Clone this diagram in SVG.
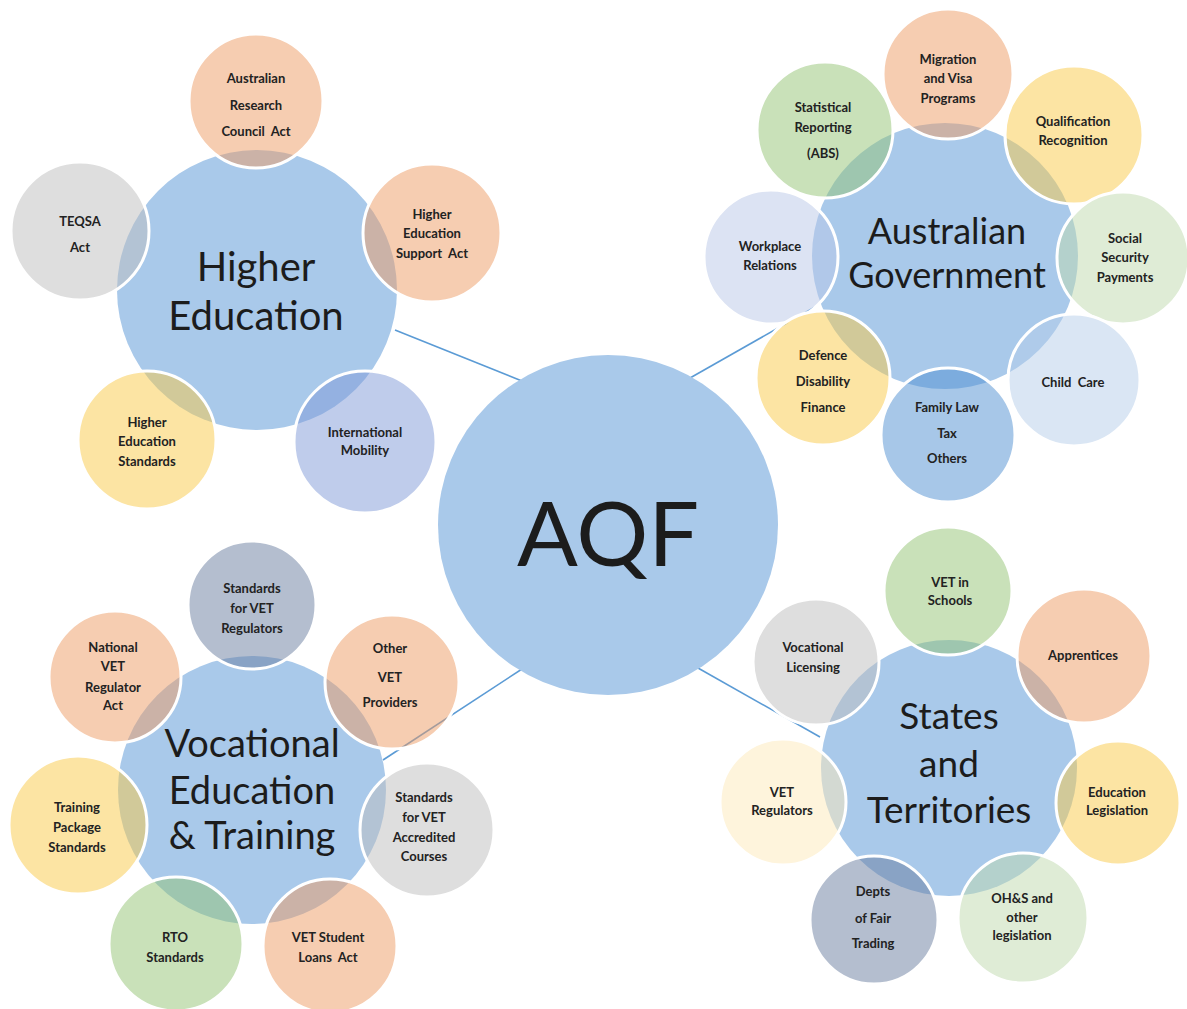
<svg xmlns="http://www.w3.org/2000/svg" width="1187" height="1009" viewBox="0 0 1187 1009">
<style>
.main{fill:#A9C9EA}
.sat{fill-opacity:0.5}
.ring{fill:none;stroke:#ffffff;stroke-width:3}
.pe{fill:#ED9B63}.gr{fill:#BDBDBD}.ye{fill:#F9C947}.la{fill:#7F99D7}.gn{fill:#93C373}
.wl{fill:#B9C7E7}.lg{fill:#BFD9AD}.lb{fill:#B5CDE9}.bl{fill:#4F8FD1}.sl{fill:#697D9F}.ly{fill:#FDE9B9}
.mt{font-family:Lato,"Open Sans","Liberation Sans",sans-serif;fill:#1c1c1c;text-anchor:middle}
.st{font-family:Lato,"Open Sans","Liberation Sans",sans-serif;font-weight:700;font-size:13px;fill:#222222;text-anchor:middle;white-space:pre}
.cn{stroke:#5B9BD5;stroke-width:1.6;fill:none}
</style>
<rect width="1187" height="1009" fill="#ffffff"/>
<g id="connectors">
<line class="cn" x1="395" y1="330" x2="522" y2="381"/>
<line class="cn" x1="690" y1="378" x2="815" y2="307"/>
<line class="cn" x1="383" y1="760" x2="522" y2="669"/>
<line class="cn" x1="698" y1="668" x2="820" y2="737"/>
</g>
<g id="aqf">
<circle class="main" cx="608" cy="525" r="170"/>
<text class="mt" x="608" y="566" font-size="90">AQF</text>
</g>

<g id="higher-education">
<circle class="main" cx="257" cy="290" r="140"/>
</g>
<g id="he-arc"><circle class="sat pe" cx="256" cy="101" r="67"/><circle class="ring" cx="256" cy="101" r="67"/>
<text class="st"><tspan x="256" y="83">Australian</tspan><tspan x="256" y="110">Research</tspan><tspan x="256" y="136">Council  Act</tspan></text></g>
<g id="he-teqsa"><circle class="sat gr" cx="80" cy="231" r="69"/><circle class="ring" cx="80" cy="231" r="69"/>
<text class="st"><tspan x="80" y="226">TEQSA</tspan><tspan x="80" y="252">Act</tspan></text></g>
<g id="he-hesa"><circle class="sat pe" cx="432" cy="233" r="69"/><circle class="ring" cx="432" cy="233" r="69"/>
<text class="st"><tspan x="432" y="219">Higher</tspan><tspan x="432" y="238">Education</tspan><tspan x="432" y="258">Support  Act</tspan></text></g>
<g id="he-hes"><circle class="sat ye" cx="147" cy="440" r="69"/><circle class="ring" cx="147" cy="440" r="69"/>
<text class="st"><tspan x="147" y="427">Higher</tspan><tspan x="147" y="446">Education</tspan><tspan x="147" y="466">Standards</tspan></text></g>
<g id="he-im"><circle class="sat la" cx="365" cy="442" r="71"/><circle class="ring" cx="365" cy="442" r="71"/>
<text class="st"><tspan x="365" y="437">International</tspan><tspan x="365" y="455">Mobility</tspan></text></g>
<g id="he-label"><text class="mt" font-size="40"><tspan x="256" y="281">Higher</tspan><tspan x="256" y="330">Education</tspan></text></g>

<g id="australian-government">
<circle class="main" cx="945" cy="256" r="133"/>
</g>
<g id="ag-migration"><circle class="sat pe" cx="948" cy="74" r="65"/><circle class="ring" cx="948" cy="74" r="65"/>
<text class="st"><tspan x="948" y="64">Migration</tspan><tspan x="948" y="83">and Visa</tspan><tspan x="948" y="103">Programs</tspan></text></g>
<g id="ag-stat"><circle class="sat gn" cx="825" cy="130" r="68"/><circle class="ring" cx="825" cy="130" r="68"/>
<text class="st"><tspan x="823" y="112">Statistical</tspan><tspan x="823" y="132">Reporting</tspan><tspan x="823" y="158">(ABS)</tspan></text></g>
<g id="ag-qual"><circle class="sat ye" cx="1074" cy="135" r="69"/><circle class="ring" cx="1074" cy="135" r="69"/>
<text class="st"><tspan x="1073" y="126">Qualification</tspan><tspan x="1073" y="145">Recognition</tspan></text></g>
<g id="ag-work"><circle class="sat wl" cx="771" cy="257" r="67"/><circle class="ring" cx="771" cy="257" r="67"/>
<text class="st"><tspan x="770" y="251">Workplace</tspan><tspan x="770" y="270">Relations</tspan></text></g>
<g id="ag-social"><circle class="sat lg" cx="1123" cy="258" r="66"/><circle class="ring" cx="1123" cy="258" r="66"/>
<text class="st"><tspan x="1125" y="243">Social</tspan><tspan x="1125" y="262">Security</tspan><tspan x="1125" y="282">Payments</tspan></text></g>
<g id="ag-defence"><circle class="sat ye" cx="823" cy="378" r="67"/><circle class="ring" cx="823" cy="378" r="67"/>
<text class="st"><tspan x="823" y="360">Defence</tspan><tspan x="823" y="386">Disability</tspan><tspan x="823" y="412">Finance</tspan></text></g>
<g id="ag-child"><circle class="sat lb" cx="1074" cy="380" r="66"/><circle class="ring" cx="1074" cy="380" r="66"/>
<text class="st"><tspan x="1073" y="387">Child  Care</tspan></text></g>
<g id="ag-family"><circle class="sat bl" cx="948" cy="435" r="67"/><circle class="ring" cx="948" cy="435" r="67"/>
<text class="st"><tspan x="947" y="412">Family Law</tspan><tspan x="947" y="438">Tax</tspan><tspan x="947" y="463">Others</tspan></text></g>
<g id="ag-label"><text class="mt" font-size="36"><tspan x="947" y="244">Australian</tspan><tspan x="947" y="288">Government</tspan></text></g>

<g id="vet">
<circle class="main" cx="252" cy="790" r="134"/>
</g>
<g id="vet-stdreg"><circle class="sat sl" cx="252" cy="605" r="64"/><circle class="ring" cx="252" cy="605" r="64"/>
<text class="st"><tspan x="252" y="593">Standards</tspan><tspan x="252" y="613">for VET</tspan><tspan x="252" y="633">Regulators</tspan></text></g>
<g id="vet-nvr"><circle class="sat pe" cx="115" cy="677" r="66"/><circle class="ring" cx="115" cy="677" r="66"/>
<text class="st"><tspan x="113" y="652">National</tspan><tspan x="113" y="671">VET</tspan><tspan x="113" y="692">Regulator</tspan><tspan x="113" y="710">Act</tspan></text></g>
<g id="vet-other"><circle class="sat pe" cx="392" cy="682" r="67"/><circle class="ring" cx="392" cy="682" r="67"/>
<text class="st"><tspan x="390" y="653">Other</tspan><tspan x="390" y="682">VET</tspan><tspan x="390" y="707">Providers</tspan></text></g>
<g id="vet-tps"><circle class="sat ye" cx="78" cy="825" r="69"/><circle class="ring" cx="78" cy="825" r="69"/>
<text class="st"><tspan x="77" y="812">Training</tspan><tspan x="77" y="832">Package</tspan><tspan x="77" y="852">Standards</tspan></text></g>
<g id="vet-accr"><circle class="sat gr" cx="427" cy="830" r="67"/><circle class="ring" cx="427" cy="830" r="67"/>
<text class="st"><tspan x="424" y="802">Standards</tspan><tspan x="424" y="822">for VET</tspan><tspan x="424" y="842">Accredited</tspan><tspan x="424" y="861">Courses</tspan></text></g>
<g id="vet-rto"><circle class="sat gn" cx="176" cy="944" r="67"/><circle class="ring" cx="176" cy="944" r="67"/>
<text class="st"><tspan x="175" y="942">RTO</tspan><tspan x="175" y="962">Standards</tspan></text></g>
<g id="vet-loans"><circle class="sat pe" cx="330" cy="946" r="67"/><circle class="ring" cx="330" cy="946" r="67"/>
<text class="st"><tspan x="328" y="942">VET Student</tspan><tspan x="328" y="962">Loans  Act</tspan></text></g>
<g id="vet-label"><text class="mt" font-size="38"><tspan x="252" y="757">Vocational</tspan><tspan x="252" y="804">Education</tspan><tspan x="252" y="849">&amp; Training</tspan></text></g>

<g id="states-territories">
<circle class="main" cx="949" cy="768" r="128"/>
</g>
<g id="st-schools"><circle class="sat gn" cx="948" cy="591" r="64"/><circle class="ring" cx="948" cy="591" r="64"/>
<text class="st"><tspan x="950" y="587">VET in</tspan><tspan x="950" y="605">Schools</tspan></text></g>
<g id="st-lic"><circle class="sat gr" cx="816" cy="662" r="63"/><circle class="ring" cx="816" cy="662" r="63"/>
<text class="st"><tspan x="813" y="652">Vocational</tspan><tspan x="813" y="672">Licensing</tspan></text></g>
<g id="st-app"><circle class="sat pe" cx="1084" cy="656" r="67"/><circle class="ring" cx="1084" cy="656" r="67"/>
<text class="st"><tspan x="1083" y="660">Apprentices</tspan></text></g>
<g id="st-reg"><circle class="sat ly" cx="783" cy="802" r="63"/><circle class="ring" cx="783" cy="802" r="63"/>
<text class="st"><tspan x="782" y="797">VET</tspan><tspan x="782" y="815">Regulators</tspan></text></g>
<g id="st-edu"><circle class="sat ye" cx="1118" cy="803" r="62"/><circle class="ring" cx="1118" cy="803" r="62"/>
<text class="st"><tspan x="1117" y="797">Education</tspan><tspan x="1117" y="815">Legislation</tspan></text></g>
<g id="st-fair"><circle class="sat sl" cx="874" cy="920" r="64"/><circle class="ring" cx="874" cy="920" r="64"/>
<text class="st"><tspan x="873" y="896">Depts</tspan><tspan x="873" y="923">of Fair</tspan><tspan x="873" y="948">Trading</tspan></text></g>
<g id="st-ohs"><circle class="sat lg" cx="1023" cy="918" r="65"/><circle class="ring" cx="1023" cy="918" r="65"/>
<text class="st"><tspan x="1022" y="903">OH&amp;S and</tspan><tspan x="1022" y="922">other</tspan><tspan x="1022" y="940">legislation</tspan></text></g>
<g id="st-label"><text class="mt" font-size="37"><tspan x="949" y="729">States</tspan><tspan x="949" y="777">and</tspan><tspan x="949" y="823">Territories</tspan></text></g>
</svg>
